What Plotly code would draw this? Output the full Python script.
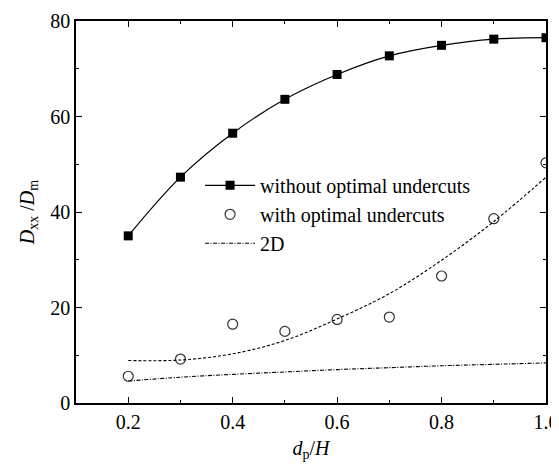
import plotly.graph_objects as go

x = [0.2, 0.3, 0.4, 0.5, 0.6, 0.7, 0.8, 0.9, 1.0]
without_opt = [35.0, 47.3, 56.5, 63.6, 68.8, 72.7, 74.9, 76.2, 76.5]
with_opt = [5.6, 9.2, 16.5, 15.0, 17.5, 18.0, 26.6, 38.6, 50.3]
with_fit = [8.9, 9.0, 10.3, 13.1, 17.6, 22.9, 29.9, 38.0, 47.3]
two_d = [4.6, 5.4, 6.0, 6.5, 7.0, 7.4, 7.8, 8.1, 8.4]

FONT = "Liberation Serif, Times New Roman, serif"

fig = go.Figure()
fig.add_trace(go.Scatter(
    x=x, y=without_opt, mode="lines+markers", name="without optimal undercuts",
    line=dict(color="black", width=1.2, shape="spline"),
    marker=dict(symbol="square", size=9, color="black"),
))
fig.add_trace(go.Scatter(
    x=x, y=with_opt, mode="markers", name="with optimal undercuts",
    marker=dict(symbol="circle-open", size=10, color="#333", line=dict(width=1.2)),
))
fig.add_trace(go.Scatter(
    x=x, y=with_fit, mode="lines", showlegend=False,
    line=dict(color="black", width=1.1, dash="3px,2px", shape="spline"),
))
fig.add_trace(go.Scatter(
    x=x, y=two_d, mode="lines", name="2D",
    line=dict(color="black", width=1.1, dash="4px,1.5px,1px,1.5px", shape="spline"),
))

axis_common = dict(
    showline=True, linecolor="black", linewidth=1.5, mirror="ticks",
    ticks="inside", ticklen=6, tickwidth=1.2, tickcolor="black",
    showgrid=False, zeroline=False, automargin=False,
    tickfont=dict(family=FONT, size=20, color="black"),
)

fig.update_xaxes(
    range=[0.1, 1.0], tickvals=[0.2, 0.4, 0.6, 0.8, 1.0],
    ticktext=["0.2", "0.4", "0.6", "0.8", "1.0"],
    ticklabelstandoff=0,
    minor=dict(tickvals=[0.3, 0.5, 0.7, 0.9], ticks="inside", ticklen=3, tickcolor="black", tickwidth=1.2),
    title=dict(text="<i>d</i><sub>p</sub>/<i>H</i>", font=dict(family=FONT, size=20, color="black"), standoff=9),
    **axis_common,
)
fig.update_yaxes(
    range=[0, 80], tickvals=[0, 20, 40, 60, 80],
    minor=dict(tickvals=[10, 30, 50, 70], ticks="inside", ticklen=3, tickcolor="black", tickwidth=1.2),
    title=dict(text="<i>D</i><sub>xx</sub> /<i>D</i><sub>m</sub>", font=dict(family=FONT, size=20, color="black"), standoff=10),
    **axis_common,
)

# page body has an 8px default margin, so the figure is sized to fit the 559x464 window
fig.update_layout(
    width=551, height=456,
    margin=dict(l=68, r=13, t=13, b=61),
    plot_bgcolor="white", paper_bgcolor="white",
    font=dict(family=FONT, size=20, color="black"),
    legend=dict(
        x=0.264, y=0.621, xanchor="left", yanchor="top",
        bgcolor="rgba(0,0,0,0)", font=dict(family=FONT, size=20, color="black"),
        tracegroupgap=0, itemwidth=50,
    ),
)

fig.write_html("out.html")
